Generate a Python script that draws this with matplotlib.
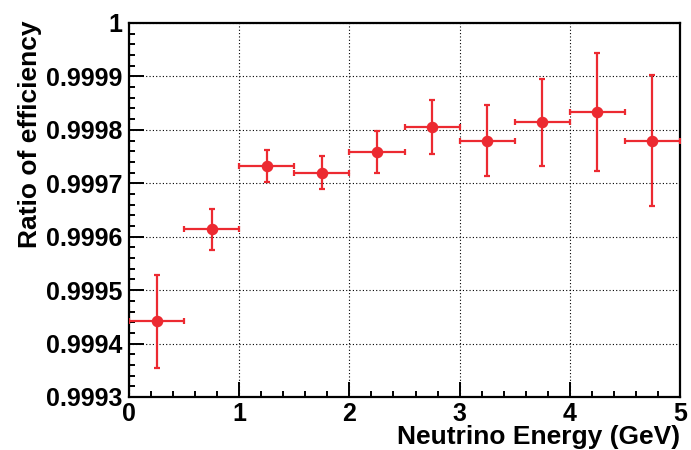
import matplotlib
matplotlib.use("Agg")
import matplotlib.pyplot as plt
from matplotlib.ticker import MultipleLocator, FuncFormatter

# bin centres / half widths (GeV)
energy = [0.25, 0.75, 1.25, 1.75, 2.25, 2.75, 3.25, 3.75, 4.25, 4.75]
half_width = [0.25] * 10
# efficiency ratio and its error
ratio = [0.999442, 0.999614, 0.999733, 0.999720, 0.999759,
         0.999805, 0.999780, 0.999814, 0.999833, 0.999780]
ratio_err = [0.000087, 0.000038, 0.000030, 0.000031, 0.000039,
             0.000050, 0.000066, 0.000081, 0.000110, 0.000123]

RED = "#ec2a31"

plt.rcParams["font.family"] = ["Liberation Sans", "DejaVu Sans"]
plt.rcParams["font.weight"] = "bold"

fig = plt.figure(figsize=(6.91, 4.5), dpi=100)
ax = fig.add_axes([129 / 691, 1 - 397 / 450, (680 - 129) / 691, (397 - 23) / 450])

ax.errorbar(energy, ratio, xerr=half_width, yerr=ratio_err, fmt="o", color=RED,
            markersize=7.3, elinewidth=1.6, capsize=2, capthick=1.6, zorder=3)

ax.set_xlim(0, 5)
ax.set_ylim(0.9993, 1.0)
ax.xaxis.set_major_locator(MultipleLocator(1))
ax.xaxis.set_minor_locator(MultipleLocator(0.2))
ax.yaxis.set_major_locator(MultipleLocator(0.0001))
ax.yaxis.set_minor_locator(MultipleLocator(0.00002))
ax.yaxis.set_major_formatter(FuncFormatter(lambda v, p: f"{v:.4f}".rstrip("0").rstrip(".")))
ax.xaxis.set_major_formatter(FuncFormatter(lambda v, p: f"{v:g}"))

ax.tick_params(which="both", direction="in", top=False, right=False,
               labelsize=18, width=1.4, colors="black")
ax.tick_params(which="major", length=11, pad=5)
ax.tick_params(which="minor", length=4.5)
ax.tick_params(axis="x", which="major", pad=3.5)
for s in ax.spines.values():
    s.set_linewidth(1.6)

ax.grid(True, which="major", linestyle=(0, (1, 2)), color="black", linewidth=0.8)
ax.set_axisbelow(True)

fig.text(30 / 691, 1 - 21 / 450, "Ratio of efficiency", rotation=90,
         ha="center", va="top", fontsize=19, fontweight="bold")
fig.text(680 / 691, 1 - 444 / 450, "Neutrino Energy (GeV)",
         ha="right", va="baseline", fontsize=19, fontweight="bold")

fig.savefig("out.png", dpi=100)
